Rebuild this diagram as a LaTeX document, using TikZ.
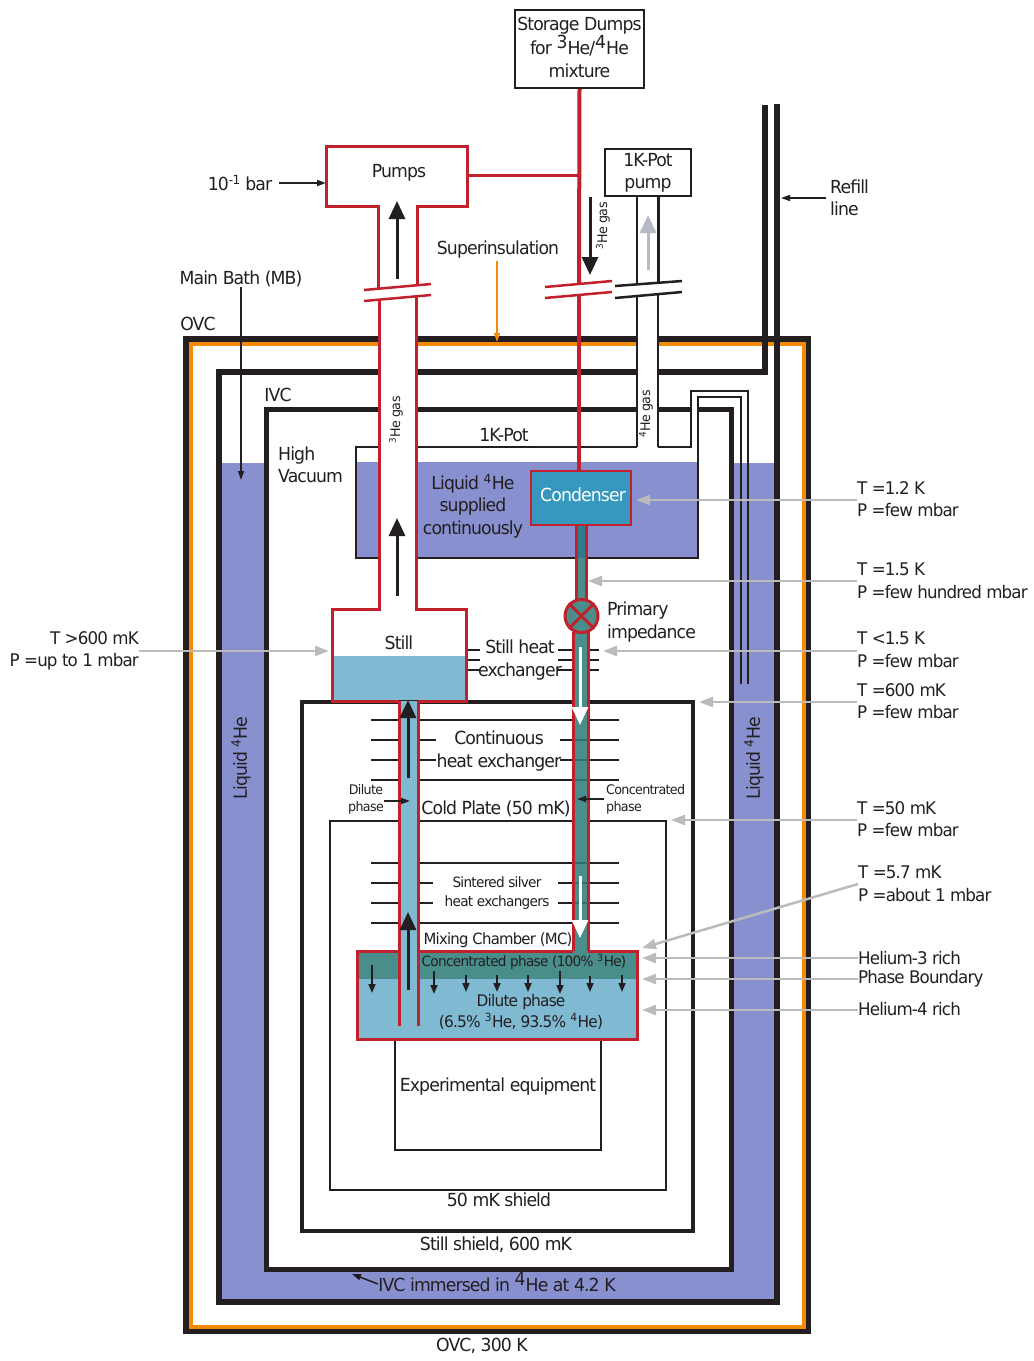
\documentclass[tikz,border=0pt]{standalone}
\usepackage{fontspec}
\setmainfont{DejaVu Sans}[LetterSpace=-5,FakeStretch=0.96]
\usetikzlibrary{arrows.meta}
\definecolor{bathblue}{HTML}{8890D0}
\definecolor{potteal}{HTML}{2E7C8E}
\definecolor{concteal}{HTML}{4A8E8C}
\definecolor{lineteal}{HTML}{2F6F70}
\definecolor{dilblue}{HTML}{80BAD2}
\definecolor{condblue}{HTML}{3698BE}
\definecolor{fridgered}{HTML}{C1202D}
\definecolor{inkblack}{HTML}{231F20}
\definecolor{shieldorange}{HTML}{F58A07}
\definecolor{notegrey}{HTML}{BBBBBB}
\definecolor{flowgrey}{HTML}{B5BAC5}
\tikzset{
  lbl/.style={inner sep=0pt,align=center,text=inkblack,font=\fontsize{18}{22.5}\selectfont},
  lblleft/.style={lbl,align=left,anchor=west},
  lblright/.style={lbl,align=right,anchor=east},
  notelbl/.style={lblleft,font=\fontsize{17.4}{22.5}\selectfont},
  lblmid/.style={lbl,font=\fontsize{15.5}{19}\selectfont},
  lbltight/.style={lbl,font=\fontsize{14.2}{19}\selectfont},
  lblsmall/.style={lbl,font=\fontsize{13.2}{17}\selectfont},
  vessel/.style={draw=inkblack,line width=6pt},
  shield/.style={draw=inkblack,line width=3.5pt},
  thinwall/.style={draw=inkblack,line width=2.5pt},
  redwall/.style={draw=fridgered,line width=3pt},
  exline/.style={draw=inkblack,line width=2.5pt},
  exmark/.style={draw=lineteal,line width=2.5pt},
  notearrow/.style={draw=notegrey,line width=2.5pt,-{Triangle[length=14pt,width=10pt]}},
  tinyarrow/.style={draw=inkblack,line width=1.5pt,-{Triangle[length=9pt,width=6pt]}},
  bigarrow/.style={draw=inkblack,line width=3pt,-{Triangle[length=18pt,width=16pt]}},
  droparrow/.style={draw=inkblack,line width=1.8pt,-{Triangle[length=9pt,width=7pt]}},
}
\begin{document}
\begin{tikzpicture}[x=1pt,y=-1pt]
  \useasboundingbox (0,0) rectangle (1034,1361);
  % 外側の容器
  \draw[draw=inkblack,line width=6pt] (186,339) rectangle (808,1331);
  \draw[draw=shieldorange,line width=4pt] (190.5,343.5) rectangle (804,1327);
  % 液体ヘリウム槽
  \fill[bathblue] (220,463) rectangle (776,1300);
  \draw[vessel] (764.5,105) -- (764.5,372) -- (219,372) -- (219,1302) -- (777,1302) -- (777,104);
  \draw[vessel,fill=white,line width=5pt] (266,409) rectangle (731,1269);
  % 1Kポット
  \fill[white] (356,447) rectangle (698,558);
  \fill[bathblue] (356,462) rectangle (698,558);
  \fill[white] (691,390) rectangle (698,447);
  \draw[thinwall] (637,447) -- (356,447) -- (356,558) -- (698,558) -- (698,397) -- (741,397) -- (741,684);
  \draw[thinwall] (658,447) -- (691,447) -- (691,391) -- (748,391) -- (748,684);
  \fill[white] (637,298) rectangle (658,462);
  \draw[thinwall] (637,296) -- (637,447);
  \draw[thinwall] (658,295) -- (658,447);
  % シールド
  \draw[shield] (302,702) rectangle (693,1231);
  \draw[thinwall] (330,821) rectangle (666,1190);
  \draw[thinwall] (395,1040) rectangle (601,1150);
  % 熱交換器
  \foreach \y in {650,660,670} {
    \draw[exline] (467,\y) -- (480,\y);
    \draw[exline] (558,\y) -- (599,\y);
  }
  \foreach \y in {720,780,863,923}
    \draw[exline] (371,\y) -- (619,\y);
  \foreach \y in {740,760} {
    \draw[exline] (371,\y) -- (436,\y);
    \draw[exline] (560,\y) -- (619,\y);
  }
  \foreach \y in {883,903} {
    \draw[exline] (371,\y) -- (433,\y);
    \draw[exline] (558,\y) -- (619,\y);
  }
  % 上部の箱と配管
  \node[draw=inkblack,line width=2pt,minimum width=129pt,minimum height=78pt] (storage) at (579.5,49) {};
  \node[draw=inkblack,line width=2pt,minimum width=86pt,minimum height=47pt] (potpump) at (648,172.5) {};
  \draw[fill=white,draw=none] (379,298) rectangle (416.5,610);
  \draw[thinwall] (637,196) -- (637,284);
  \draw[thinwall] (658.5,196) -- (658.5,283);
  \draw[redwall] (378.5,288) -- (378.5,206) -- (326.5,206) -- (326.5,146) -- (467,146) -- (467,206) -- (417,206) -- (417,285);
  \draw[redwall] (379,300) -- (379,609) -- (332,609) -- (332,701) -- (399,701);
  \draw[redwall] (416.5,297) -- (416.5,609) -- (466,609) -- (466,701) -- (418,701);
  \fill[dilblue] (333.5,656) rectangle (464.5,699.5);
  % コンデンサと凝縮管
  \node[draw=fridgered,line width=2.5pt,fill=condblue,minimum width=100pt,minimum height=54pt] (condenser) at (581,498) {};
  \coordinate (flangetop) at (579,284);
  \coordinate (flangebot) at (579,295);
  \draw[fridgered,line width=4pt] (storage.south) -- (flangetop);
  \draw[fridgered,line width=4pt] (flangebot) -- (condenser.north -| flangebot);
  \draw[fridgered,line width=3pt] (467,175.5) -- (579,175.5);
  \fill[potteal] (576,526) rectangle (586,558);
  \fill[concteal] (576,558) rectangle (586,600);
  \draw[redwall] (576,526) -- (576,600);
  \draw[redwall] (586,526) -- (586,600);
  % 混合室
  \fill[concteal] (357,951) rectangle (637,979);
  \fill[dilblue] (357,979) rectangle (637,1039);
  \fill[dilblue] (399,701) rectangle (418,1039);
  \fill[concteal] (573,632) rectangle (588,979);
  \draw[redwall] (399,951) -- (357,951) -- (357,1039) -- (637,1039) -- (637,951) -- (588,951);
  \draw[redwall] (418,951) -- (573,951);
  \draw[redwall] (399,701) -- (399,1026);
  \draw[redwall] (418,701) -- (418,1026);
  \draw[redwall] (573,632) -- (573,951);
  \draw[redwall] (588,632) -- (588,951);
  \foreach \y in {740,760,780,863,883,903}
    \draw[exmark] (574.5,\y) -- (586.5,\y);
  % 一次インピーダンス
  \node[circle,draw=fridgered,line width=3pt,fill=concteal,minimum size=33pt,inner sep=0pt] (impedance) at (581.5,616) {};
  \draw[fridgered,line width=3pt] (impedance.north west) -- (impedance.south east);
  \draw[fridgered,line width=3pt] (impedance.north east) -- (impedance.south west);
  % フランジ
  \draw[fridgered,line width=2.5pt] (364,290) -- (431,284);
  \draw[fridgered,line width=2.5pt] (364,301) -- (431,295);
  \draw[fridgered,line width=2.5pt] (545,287) -- (612,281);
  \draw[fridgered,line width=2.5pt] (545,298) -- (612,292);
  \draw[inkblack,line width=2.5pt] (615,286) -- (682,281);
  \draw[inkblack,line width=2.5pt] (615,298) -- (682,292);
  % 流れの矢印
  \draw[bigarrow] (397,279) -- (397,201);
  \draw[bigarrow] (397,596) -- (397,518);
  \draw[bigarrow] (590,197) -- (590,275);
  \draw[bigarrow,draw=flowgrey] (648,270) -- (648,215);
  \draw[bigarrow] (408,778) -- (408,700);
  \draw[bigarrow] (408,990) -- (408,912);
  \draw[bigarrow,draw=white] (580,647) -- (580,725);
  \draw[bigarrow,draw=white] (580,876) -- (580,938);
  \foreach \x/\a/\b in {372/965/993,434/971/994,466/975/992,497/975/992,528/975/992,560/971/994,590/976/992,622/975/992}
    \draw[droparrow] (\x,\a) -- (\x,\b);
  % ラベル
  \node[lbl] (storagetext) at (579.5,47) {Storage Dumps\\for \raisebox{.35em}{3}He/\raisebox{.35em}{4}He\\mixture};
  \node[lbl] (pumpstext) at (399,173) {Pumps};
  \node[lbl] (potpumptext) at (648,173) {1K-Pot\\pump};
  \node[lbl] (pressure) at (240,183) {10\textsuperscript{-1} bar};
  \node[lbl] (superins) at (498,250) {Superinsulation};
  \node[lbl] (mainbath) at (241,279) {Main Bath (MB)};
  \node[lbl] (ovc) at (198,324) {OVC};
  \node[lbl] (ivc) at (278,395) {IVC};
  \node[lblleft] (vacuum) at (278,465) {High\\Vacuum};
  \node[lblleft] (refill) at (830,198) {Refill\\line};
  \node[lbl] (pottext) at (504,435) {1K-Pot};
  \node[lbl] (supplied) at (473,506) {Liquid \textsuperscript{4}He\\supplied\\continuously};
  \node[lbl,text=white] (condensertext) at (583,495) {Condenser};
  \node[lblleft] (imptext) at (607,622) {Primary\\impedance};
  \node[lbl] (still) at (399,643) {Still};
  \node[lbl] (stillex) at (520,660) {Still heat\\exchanger};
  \node[lbl] (contex) at (499,751) {Continuous\\heat exchanger};
  \node[lblsmall] (dilshort) at (366,799) {Dilute\\phase};
  \node[lblsmall,align=left,anchor=west] (concshort) at (606,799) {Concentrated\\phase};
  \node[lbl] (coldplate) at (496,809) {Cold Plate (50 mK)};
  \node[lbltight] (sintered) at (497,893) {Sintered silver\\heat exchangers};
  \node[lblmid] (mctext) at (498,940) {Mixing Chamber (MC)};
  \node[lbltight] (conctext) at (524,962) {Concentrated phase (100\% \textsuperscript{3}He)};
  \node[lbl,font=\fontsize{16}{21.5}\selectfont] (diltext) at (521,1012) {Dilute phase\\(6.5\% \textsuperscript{3}He, 93.5\% \textsuperscript{4}He)};
  \node[lbl] (expt) at (498,1087) {Experimental equipment};
  \node[lbl] (shield50) at (499,1200) {50 mK shield};
  \node[lbl] (shield600) at (496,1245) {Still shield, 600 mK};
  \node[lbl] (immersed) at (497,1282) {IVC immersed in \raisebox{.35em}{4}He at 4.2 K};
  \node[lbl] (ovc300) at (482,1346) {OVC, 300 K};
  \node[lbl,rotate=90] (liqleft) at (241,758) {Liquid \textsuperscript{4}He};
  \node[lbl,rotate=90] (liqright) at (754,758) {Liquid \textsuperscript{4}He};
  \node[lblsmall,rotate=90] (gasmain) at (396,420) {\textsuperscript{3}He gas};
  \node[lblsmall,rotate=90] (gasdump) at (603,226) {\textsuperscript{3}He gas};
  \node[lblsmall,rotate=90] (gaspot) at (646,414) {\textsuperscript{4}He gas};
  % 温度と圧力
  \node[notelbl,align=right,anchor=east] (tstill) at (139,651) {T >600 mK\\P =up to 1 mbar};
  \node[notelbl] (tcond) at (857,499) {T =1.2 K\\P =few mbar};
  \node[notelbl] (tline) at (857,581) {T =1.5 K\\P =few hundred mbar};
  \node[notelbl] (tstillex) at (857,650) {T <1.5 K\\P =few mbar};
  \node[notelbl] (tshield) at (857,701) {T =600 mK\\P =few mbar};
  \node[notelbl] (tplate) at (857,819) {T =50 mK\\P =few mbar};
  \node[notelbl] (tmc) at (858,884) {T =5.7 mK\\P =about 1 mbar};
  \node[notelbl] (rich3) at (858,958) {Helium-3 rich};
  \node[notelbl] (boundary) at (858,979) {Phase Boundary};
  \node[notelbl] (rich4) at (858,1009) {Helium-4 rich};
  % 矢印の先
  \coordinate (tostill) at (329,651);
  \coordinate (tocond) at (636,500);
  \coordinate (toline) at (588,581);
  \coordinate (toex) at (603,651);
  \coordinate (toshield) at (699,702);
  \coordinate (toplate) at (671,820);
  \coordinate (tomc) at (642,948);
  \coordinate (torich3) at (642,958);
  \coordinate (toboundary) at (642,979);
  \coordinate (torich4) at (642,1010);
  \draw[notearrow] (tstill.east |- tostill) -- (tostill);
  \draw[notearrow] (tcond.west |- tocond) -- (tocond);
  \draw[notearrow] (tline.west |- toline) -- (toline);
  \draw[notearrow] (tstillex.west |- toex) -- (toex);
  \draw[notearrow] (tshield.west |- toshield) -- (toshield);
  \draw[notearrow] (tplate.west |- toplate) -- (toplate);
  \draw[notearrow] (tmc.west) -- (tomc);
  \draw[notearrow] (rich3.west |- torich3) -- (torich3);
  \draw[notearrow] (boundary.west |- toboundary) -- (toboundary);
  \draw[notearrow] (rich4.west |- torich4) -- (torich4);
  % 細い矢印
  \coordinate (topumps) at (326,183);
  \coordinate (torefill) at (781,198);
  \coordinate (tobath) at (241,480);
  \coordinate (toorange) at (497,342);
  \coordinate (todil) at (410,801);
  \coordinate (toconc) at (577,799);
  \coordinate (toivc) at (352,1274);
  \draw[tinyarrow,line width=2pt] (279,183) -- (topumps);
  \draw[tinyarrow] (826,198) -- (torefill);
  \draw[tinyarrow] (mainbath.south -| tobath) -- (tobath);
  \draw[tinyarrow,draw=shieldorange] (497,261) -- (toorange);
  \draw[tinyarrow] (384,801) -- (todil);
  \draw[tinyarrow] (604,799) -- (toconc);
  \draw[tinyarrow] (378,1284) -- (toivc);
\end{tikzpicture}
\end{document}
